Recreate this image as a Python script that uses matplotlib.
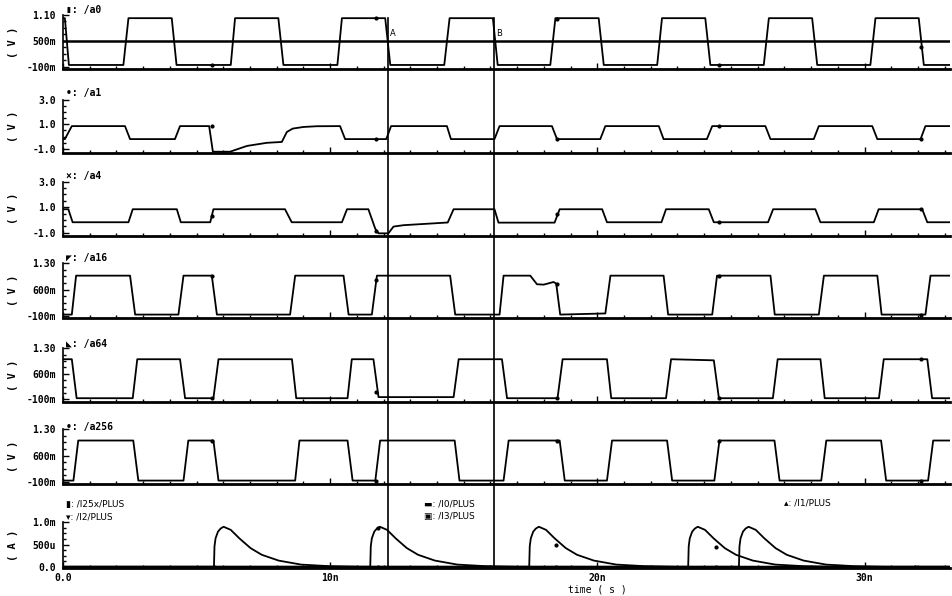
import matplotlib
matplotlib.use("Agg")
import matplotlib.pyplot as plt
import matplotlib.transforms as mtransforms
from matplotlib.lines import Line2D
from matplotlib.ticker import AutoMinorLocator, MultipleLocator

# ---- waveform data (time in ns, volts / amps) ----
t_a0 = [0.0, 0.07, 0.22, 2.26, 2.45, 4.07, 4.25, 6.28, 6.44, 8.06, 8.25, 10.27, 10.44,
        12.06, 12.25, 14.27, 14.47, 16.09, 16.27, 18.24, 18.43, 20.05, 20.24, 22.24,
        22.42, 24.04, 24.23, 26.23, 26.42, 28.04, 28.23, 30.22, 30.41, 32.03, 32.22, 33.2]
v_a0 = [1.02, 1.02, -0.06, -0.06, 1.02, 1.02, -0.06, -0.06, 1.02, 1.02, -0.06, -0.06,
        1.02, 1.02, -0.06, -0.06, 1.02, 1.02, -0.06, -0.06, 1.02, 1.02, -0.06, -0.06,
        1.02, 1.02, -0.06, -0.06, 1.02, 1.02, -0.06, -0.06, 1.02, 1.02, -0.06, -0.06]

t_a1 = [0.0, 0.07, 0.33, 2.32, 2.51, 4.19, 4.38, 5.47, 5.61, 6.25, 6.89, 7.63, 8.19,
        8.38, 8.6, 9.0, 9.5, 10.37, 10.56, 12.10, 12.28, 14.37, 14.52, 16.15, 16.34,
        18.30, 18.49, 20.11, 20.30, 22.30, 22.48, 24.10, 24.30, 26.29, 26.48, 28.10,
        28.29, 30.29, 30.48, 32.10, 32.28, 33.2]
v_a1 = [-0.2, -0.2, 0.85, 0.85, -0.2, -0.2, 0.85, 0.85, -1.22, -1.22, -0.75, -0.5, -0.43,
        0.38, 0.65, 0.78, 0.84, 0.85, -0.2, -0.2, 0.85, 0.85, -0.2, -0.2, 0.85,
        0.85, -0.2, -0.2, 0.85, 0.85, -0.2, -0.2, 0.85, 0.85, -0.2, -0.2,
        0.85, 0.85, -0.2, -0.2, 0.85, 0.85]

t_a4 = [0.0, 0.2, 0.36, 2.45, 2.61, 4.26, 4.41, 5.51, 5.63, 8.31, 8.56, 10.44, 10.63,
        11.43, 11.69, 11.81, 12.18, 12.37, 12.75, 14.40, 14.62, 16.15, 16.30, 18.40,
        18.59, 20.18, 20.36, 22.40, 22.57, 24.17, 24.36, 26.39, 26.58, 28.16, 28.35,
        30.35, 30.53, 32.16, 32.35, 33.2]
v_a4 = [0.84, 0.84, -0.18, -0.18, 0.84, 0.84, -0.18, -0.18, 0.84, 0.84, -0.18, -0.18, 0.84,
        0.84, -0.7, -1.05, -1.05, -0.52, -0.41, -0.2, 0.84, 0.84, -0.21, -0.21,
        0.84, 0.84, -0.18, -0.18, 0.84, 0.84, -0.18, -0.18, 0.84, 0.84, -0.18,
        -0.18, 0.84, 0.84, -0.18, -0.18]

t_a16 = [0.0, 0.33, 0.49, 2.51, 2.70, 4.32, 4.51, 5.57, 5.76, 8.50, 8.69, 10.50, 10.69,
         11.56, 11.75, 14.49, 14.68, 16.34, 16.49, 17.49, 17.74, 17.99, 18.36, 18.46,
         18.61, 20.30, 20.49, 22.48, 22.65, 24.30, 24.48, 26.48, 26.64, 28.29, 28.48,
         30.48, 30.64, 32.28, 32.47, 33.2]
v_a16 = [-0.07, -0.07, 0.97, 0.97, -0.07, -0.07, 0.97, 0.97, -0.07, -0.07, 0.97, 0.97, -0.07,
         -0.07, 0.97, 0.97, -0.07, -0.07, 0.97, 0.97, 0.74, 0.73, 0.80, 0.76,
         -0.07, -0.04, 0.97, 0.97, -0.07, -0.07, 0.97, 0.97, -0.07, -0.07, 0.97,
         0.97, -0.07, -0.07, 0.97, 0.97]

t_a64 = [0.0, 0.33, 0.51, 2.61, 2.78, 4.38, 4.57, 5.63, 5.82, 8.57, 8.73, 10.65, 10.81,
         11.62, 11.81, 14.62, 14.81, 16.43, 16.62, 18.51, 18.70, 20.36, 20.52, 22.57,
         22.76, 24.36, 24.55, 26.57, 26.75, 28.35, 28.51, 30.54, 30.72, 32.35, 32.53, 33.2]
v_a64 = [1.0, 1.0, -0.07, -0.07, 1.0, 1.0, -0.07, -0.07, 1.0, 1.0, -0.07, -0.07, 1.0,
         1.0, -0.04, -0.04, 1.0, 1.0, -0.07, -0.07, 1.0, 1.0, -0.07, -0.07,
         1.0, 0.97, -0.07, -0.07, 1.0, 1.0, -0.07, -0.07, 1.0, 1.0, -0.07, -0.07]

t_a256 = [0.0, 0.39, 0.57, 2.63, 2.82, 4.51, 4.69, 5.63, 5.82, 8.69, 8.85, 10.65, 10.84,
          11.69, 11.87, 14.66, 14.84, 16.49, 16.68, 18.59, 18.78, 20.36, 20.55, 22.61,
          22.80, 24.38, 24.57, 26.63, 26.82, 28.38, 28.57, 30.62, 30.81, 32.38, 32.57, 33.2]
v_a256 = [-0.07, -0.07, 1.0, 1.0, -0.07, -0.07, 1.0, 1.0, -0.07, -0.07, 1.0, 1.0, -0.07,
          -0.07, 1.0, 1.0, -0.07, -0.07, 1.0, 1.0, -0.07, -0.07, 1.0, 1.0,
          -0.07, -0.07, 1.0, 1.0, -0.07, -0.07, 1.0, 1.0, -0.07, -0.07, 1.0, 1.0]

# current pulses (mA)
t_i25x = [0.0, 5.65, 5.67, 5.71, 5.80, 5.90, 6.01, 6.28, 6.60, 7.02, 7.44, 8.07, 8.91, 9.95, 11.15, 33.2]
t_i2 = [0.0, 11.50, 11.52, 11.56, 11.65, 11.75, 11.86, 12.13, 12.45, 12.87, 13.29, 13.92, 14.76, 15.80, 17.00, 33.2]
t_i0 = [0.0, 17.45, 17.47, 17.51, 17.60, 17.70, 17.81, 18.08, 18.40, 18.82, 19.24, 19.87, 20.71, 21.75, 22.95, 33.2]
t_i3 = [0.0, 23.40, 23.42, 23.46, 23.55, 23.65, 23.76, 24.03, 24.35, 24.77, 25.19, 25.82, 26.66, 27.70, 28.90, 33.2]
t_i1 = [0.0, 25.30, 25.32, 25.36, 25.45, 25.55, 25.66, 25.93, 26.25, 26.67, 27.09, 27.72, 28.56, 29.60, 30.80, 33.2]
i_i25x = [0.0, 0.0, 0.46, 0.64, 0.79, 0.86, 0.90, 0.83, 0.64, 0.42, 0.27, 0.14, 0.05, 0.015, 0.0, 0.0]
i_i2 = [0.0, 0.0, 0.46, 0.64, 0.79, 0.86, 0.90, 0.83, 0.64, 0.42, 0.27, 0.14, 0.05, 0.015, 0.0, 0.0]
i_i0 = [0.0, 0.0, 0.46, 0.64, 0.79, 0.86, 0.90, 0.83, 0.64, 0.42, 0.27, 0.14, 0.05, 0.015, 0.0, 0.0]
i_i3 = [0.0, 0.0, 0.46, 0.64, 0.79, 0.86, 0.90, 0.83, 0.64, 0.42, 0.27, 0.14, 0.05, 0.015, 0.0, 0.0]
i_i1 = [0.0, 0.0, 0.46, 0.64, 0.79, 0.86, 0.90, 0.83, 0.64, 0.42, 0.27, 0.14, 0.05, 0.015, 0.0, 0.0]

# small trace markers drawn by the viewer
mk_t = [5.57, 11.72, 18.49, 24.54, 32.12]
mk_a0 = [-0.06, 1.02, 1.0, -0.06, 0.35]
mk_a1 = [0.85, -0.2, -0.2, 0.85, -0.2]
mk_a4 = [0.3, -0.85, 0.5, -0.18, 0.84]
mk_a16 = [0.97, 0.85, 0.76, 0.97, -0.07]
mk_a64 = [-0.07, 0.1, -0.07, -0.07, 1.0]
mk_a256 = [1.0, -0.07, 1.0, 1.0, -0.07]
mk_it = [5.65, 11.8, 11.8, 18.45, 18.45, 24.44, 24.44, 31.9]
mk_i = [0.0, 0.0, 0.88, 0.0, 0.5, 0.0, 0.45, 0.0]

cursor_t = [12.16, 16.15]
cursor_names = ["A", "B"]
T_END = 33.2

# ---- layout in pixels of the original screenshot ----
W, H = 952, 596
X0, X1 = 63, 950
MONO = ["DejaVu Sans Mono", "DejaVu Sans"]


def fx(x):
    return x / W


def fy(y):
    return 1 - y / H


fig = plt.figure(figsize=(W / 100, H / 100), dpi=100)

# name, sym, t, v, ticks, ticklabels, top px, bottom tick px, axis px, name px, unit, markers
panels = [
    ("/a0", "\u25ae", t_a0, v_a0, [-0.1, 0.5, 1.1], ["-100m", "500m", "1.10"], 14.7, 66.7, 69.3, 10, "( V )", mk_a0),
    ("/a1", "\u2022", t_a1, v_a1, [-1.0, 1.0, 3.0], ["-1.0", "1.0", "3.0"], 99.5, 149, 152.5, 93, "( V )", mk_a1),
    ("/a4", "\u00d7", t_a4, v_a4, [-1.0, 1.0, 3.0], ["-1.0", "1.0", "3.0"], 181.7, 232.7, 236, 176, "( V )", mk_a4),
    ("/a16", "\u25e4", t_a16, v_a16, [-0.1, 0.6, 1.3], ["-100m", "600m", "1.30"], 263.3, 315.7, 318.3, 258.3, "( V )", mk_a16),
    ("/a64", "\u25e3", t_a64, v_a64, [-0.1, 0.6, 1.3], ["-100m", "600m", "1.30"], 348.3, 399.3, 401.7, 344, "( V )", mk_a64),
    ("/a256", "\u2022", t_a256, v_a256, [-0.1, 0.6, 1.3], ["-100m", "600m", "1.30"], 429.3, 481.7, 484, 426.7, "( V )", mk_a256),
]

axes = []
for name, sym, t, v, ticks, tlabels, ytop, ybot, yaxis, yname, unit, mk in panels:
    ax = fig.add_axes([fx(X0), fy(yaxis), fx(X1) - fx(X0), (yaxis - ytop) / H])
    scale = (ticks[-1] - ticks[0]) / (ybot - ytop)
    ax.set_ylim(ticks[0] - (yaxis - ybot) * scale, ticks[-1])
    ax.plot(t, v, color="black", lw=1.3, solid_joinstyle="round")
    ax.plot(mk_t, mk, "o", color="black", ms=2)
    ax.set_yticks(ticks, tlabels)
    fig.text(fx(66), fy(yname), sym + ": " + name, family=MONO, weight="bold",
             fontsize=7, va="center", ha="left")
    fig.text(fx(13), fy((ytop + yaxis) / 2), unit, family=MONO, weight="bold",
             fontsize=7.5, rotation=90, va="center", ha="center")
    axes.append(ax)

# threshold line and cursor labels on the top trace
axes[0].axhline(0.5, color="black", lw=1.8)
for ct, cn in zip(cursor_t, cursor_names):
    axes[0].text(ct + 0.08, 0.56, cn, fontsize=6, ha="left", va="bottom")

# current panel, zero sits on the axis line
ax_i = fig.add_axes([fx(X0), fy(567.7), fx(X1) - fx(X0), (567.7 - 522.3) / H])
ax_i.set_ylim(-0.02, 1.0)
for t, i in [(t_i25x, i_i25x), (t_i2, i_i2), (t_i0, i_i0), (t_i3, i_i3), (t_i1, i_i1)]:
    ax_i.plot(t, i, color="black", lw=1.3)
ax_i.plot(mk_it, mk_i, "o", color="black", ms=2)
ax_i.set_yticks([0.0, 0.5, 1.0], ["0.0", "500u", "1.0m"])
fig.text(fx(13), fy((522.3 + 567.7) / 2), "( A )", family=MONO, weight="bold",
         fontsize=7.5, rotation=90, va="center", ha="center")
axes.append(ax_i)

legend_txt = [("\u25ae: /I25x/PLUS", 66, 504.3), ("\u25be: /I2/PLUS", 66, 516.7),
              ("\u25ac: /I0/PLUS", 424, 504.3), ("\u25a3: /I3/PLUS", 424, 516.7),
              ("\u25b4: /I1/PLUS", 784, 503.3)]
for txt, x, y in legend_txt:
    fig.text(fx(x), fy(y), txt, fontsize=6.5, family=["DejaVu Sans"], va="center", ha="left")

# common axis styling
for ax in axes:
    ax.set_xlim(0, T_END)
    ax.set_facecolor("none")
    for s in ["top", "right"]:
        ax.spines[s].set_visible(False)
    ax.spines["left"].set_linewidth(1.2)
    ax.spines["bottom"].set_linewidth(2.0)
    ax.xaxis.set_major_locator(MultipleLocator(10))
    ax.xaxis.set_minor_locator(MultipleLocator(1))
    ax.yaxis.set_minor_locator(AutoMinorLocator(4))
    ax.tick_params(which="major", direction="in", length=4, width=1, colors="black")
    ax.tick_params(which="minor", direction="in", length=2, width=1, colors="black")
    ax.tick_params(axis="y", pad=5, labelsize=7)
    for lab in ax.get_yticklabels():
        lab.set_family(MONO)
        lab.set_weight("bold")
    if ax is not ax_i:
        ax.tick_params(axis="x", labelbottom=False)

ax_i.set_xticks([0, 10, 20, 30], ["0.0", "10n", "20n", "30n"])
ax_i.tick_params(axis="x", pad=4, labelsize=7)
for lab in ax_i.get_xticklabels():
    lab.set_family(MONO)
    lab.set_weight("bold")
fig.text(fx(597), fy(589), "time ( s )", family=MONO, fontsize=7, ha="center", va="center")

# cursor lines A and B through all panels
trans = mtransforms.blended_transform_factory(axes[0].transData, fig.transFigure)
for ct in cursor_t:
    fig.add_artist(Line2D([ct, ct], [fy(18), fy(567.7)], transform=trans,
                          color="black", lw=1.2))

fig.savefig("out.png", dpi=100)
